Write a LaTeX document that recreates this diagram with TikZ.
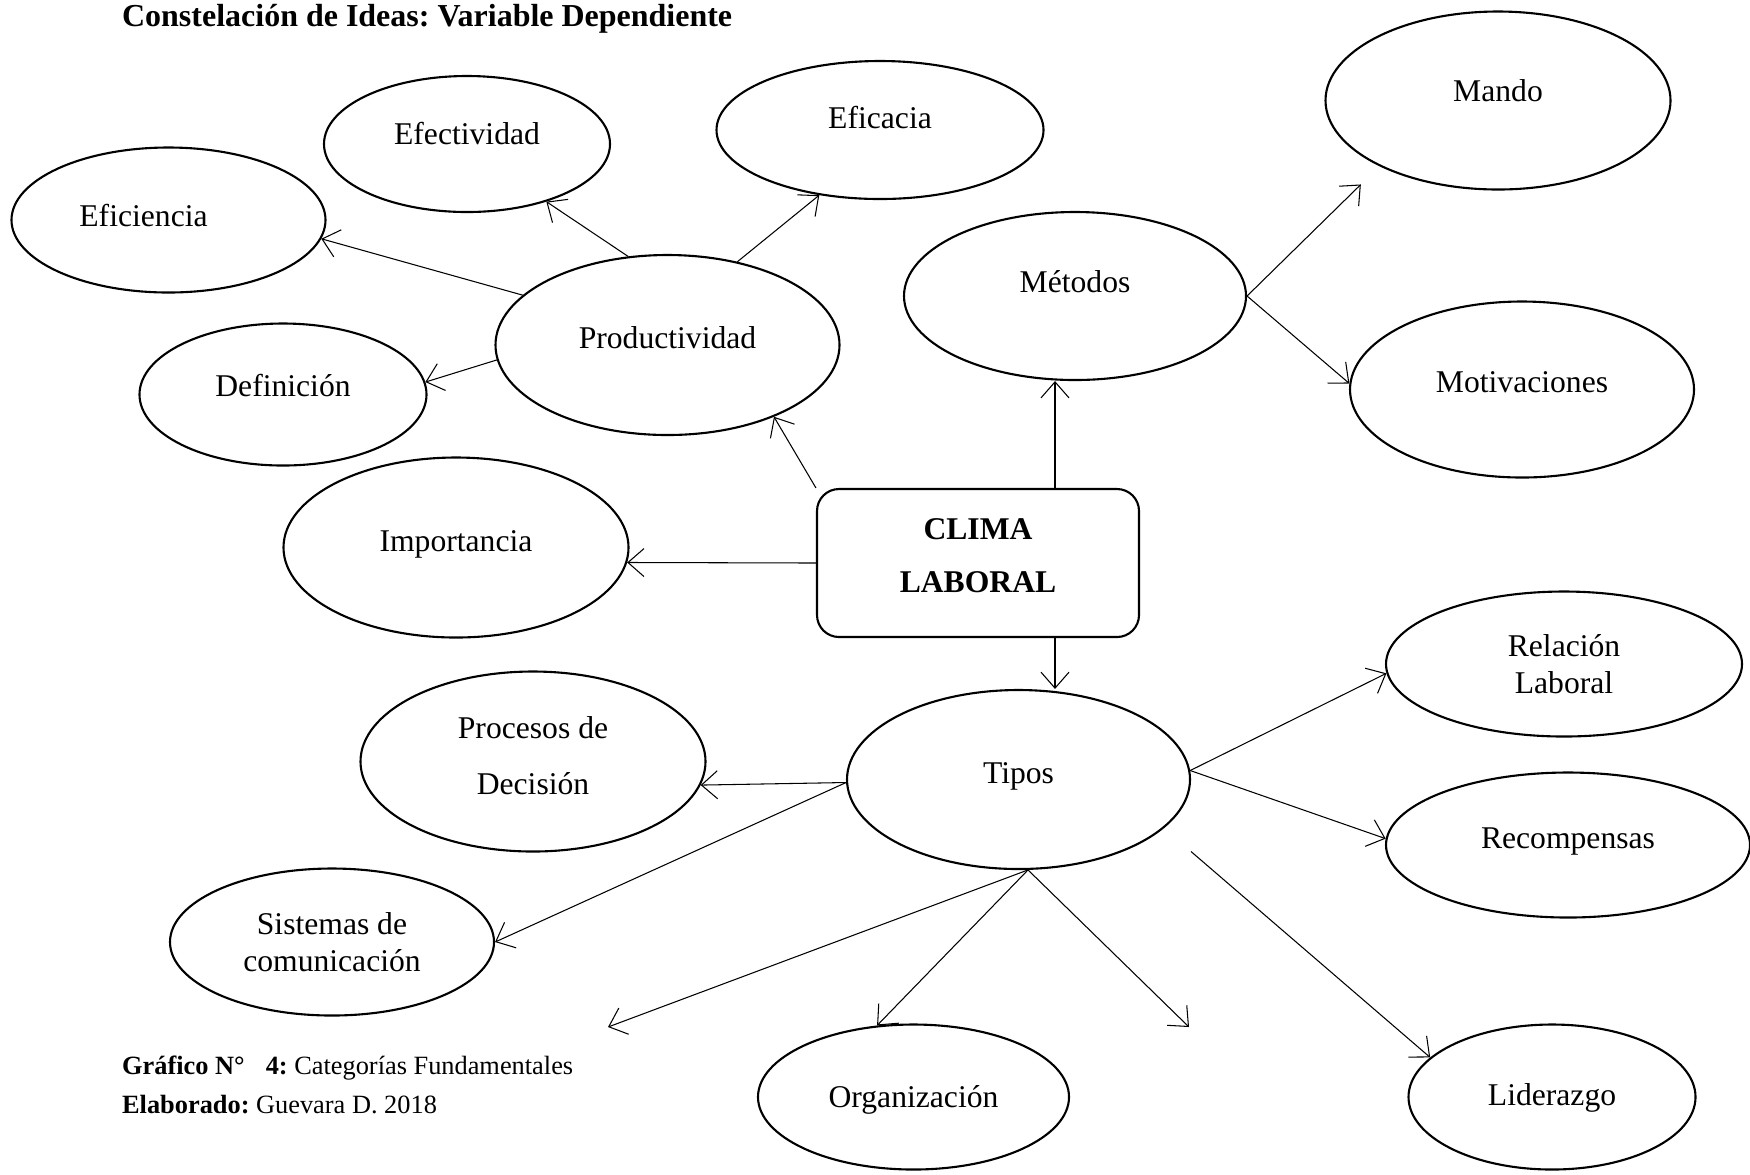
\documentclass[tikz,border=0pt]{standalone}
\usepackage{fontspec}
\setmainfont{Liberation Serif}
\frenchspacing
\usetikzlibrary{arrows.meta,shapes.geometric}

\begin{document}
\begin{tikzpicture}[line width=0.3pt,>={Straight Barb[length=1.6mm,width=2.8mm]},
  bubble/.style={ellipse,draw,line width=0.6pt,inner sep=0pt,align=center,
    font=\fontsize{9}{10.5}\selectfont},
  idea/.style={bubble,text height=6.5pt,text depth=#1},
  idea/.default=0.4pt,
  core/.style={rectangle,rounded corners=2.2mm,draw,line width=0.6pt,inner sep=0pt,
    align=center,font=\fontsize{9}{15.2}\selectfont\bfseries}]
\useasboundingbox (0,0) rectangle (17.5,-11.74);
% ---------- title and caption ----------
\node[anchor=west,inner sep=0pt,font=\fontsize{9.1}{11}\selectfont\bfseries] (titulo) at (1.216,-0.19)
  {Constelación de Ideas: Variable Dependiente};
\node[anchor=west,inner sep=0pt,font=\fontsize{7.5}{9}\selectfont] (grafico) at (1.216,-10.68)
  {\textbf{Gráfico N°\hspace{6pt}4:} Categorías Fundamentales};
\node[anchor=west,inner sep=0pt,font=\fontsize{7.5}{9}\selectfont] (elaborado) at (1.216,-11.05)
  {\textbf{Elaborado:} Guevara D. 2018};
% ---------- central box ----------
\node[core,text depth=4.4pt,minimum width=3.22cm,minimum height=1.48cm] (clima) at (9.78,-5.63)
  {CLIMA\\LABORAL};
% ---------- productividad branch ----------
\node[idea=4.8pt,minimum width=3.44cm,minimum height=1.80cm] (productividad) at (6.675,-3.45) {Productividad};
\node[idea=6.1pt,minimum width=2.86cm,minimum height=1.36cm] (efectividad) at (4.67,-1.44) {Efectividad};
\node[idea=7.1pt,minimum width=3.27cm,minimum height=1.38cm] (eficacia) at (8.80,-1.30) {Eficacia};
\node[idea=2.9pt,minimum width=3.14cm,minimum height=1.45cm] (eficiencia) at (1.685,-2.20)
  {Eficiencia\hspace*{5mm}};
\node[idea=5.2pt,minimum width=2.87cm,minimum height=1.42cm] (definicion) at (2.83,-3.945) {Definición};
\node[idea=4.5pt,minimum width=3.45cm,minimum height=1.80cm] (importancia) at (4.56,-5.475) {Importancia};
\draw[->] (clima.north west) -- (productividad.-34);
\draw[->] (clima.west) -- (importancia.-5);
\draw[->] (productividad.114) -- (efectividad.-36);
\draw[->] (productividad.50) -- (eficacia.-133);
\draw[->] (productividad.161) -- (eficiencia.-7);
\draw[->] (productividad.185) -- (definicion.5);
% ---------- metodos branch ----------
\node[idea=8.7pt,minimum width=3.42cm,minimum height=1.68cm] (metodos) at (10.75,-2.96) {Métodos};
\node[idea=6.1pt,minimum width=3.45cm,minimum height=1.78cm] (mando) at (14.98,-1.005) {Mando};
\node[idea=4.8pt,minimum width=3.44cm,minimum height=1.76cm] (motivaciones) at (15.22,-3.895) {Motivaciones};
\coordinate (mx) at (10.55,0);
\draw[->] (clima.north -| mx) -- (metodos.south -| mx);
\draw[->,shorten >=2.6mm] (metodos.east) -- (mando.-151);
\draw[->] (metodos.east) -- (motivaciones.178);
% ---------- tipos branch ----------
\node[idea=4.5pt,minimum width=3.43cm,minimum height=1.79cm] (tipos) at (10.185,-7.795) {Tipos};
\node[bubble,text depth=3.2pt,minimum width=3.45cm,minimum height=1.80cm] (procesos) at (5.33,-7.615)
  {Procesos de\\[5.4pt]Decisión};
\node[bubble,minimum width=3.24cm,minimum height=1.47cm] (sistemas) at (3.32,-9.42)
  {Sistemas de\\comunicación};
\node[idea,minimum width=3.11cm,minimum height=1.45cm] (organizacion) at (9.135,-10.97) {Organización};
\node[bubble,minimum width=3.56cm,minimum height=1.45cm] (relacion) at (15.64,-6.64) {Relación\\Laboral};
\node[idea=4.8pt,minimum width=3.64cm,minimum height=1.45cm] (recompensas) at (15.68,-8.45) {Recompensas};
\node[idea=1.7pt,minimum width=2.87cm,minimum height=1.45cm] (liderazgo) at (15.52,-10.97) {Liderazgo};
\coordinate (ll) at (6.08,-10.27);
\coordinate (lr) at (11.89,-10.27);
\coordinate (rs) at (11.91,-8.515);
\draw[->] (clima.south -| mx) -- (tipos.north -| mx);
\draw[->] (tipos.181) -- (procesos.-8);
\draw[->] (tipos.181) -- (sistemas.east);
\draw[->] (tipos.-84) -- (ll);
\draw[->] (tipos.-84) -- (organizacion.117);
\draw[->] (tipos.-84) -- (lr);
\draw[->] (tipos.3) -- (relacion.183);
\draw[->] (tipos.3) -- (recompensas.178);
\draw[->] (rs) -- (liderazgo.162);
\end{tikzpicture}
\end{document}
